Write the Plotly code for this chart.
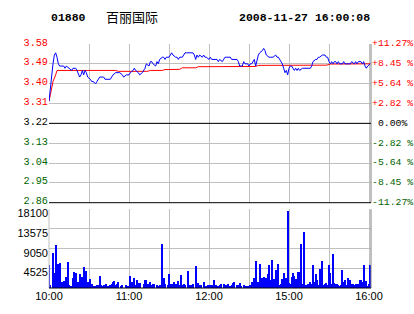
import plotly.graph_objects as go

# ---------------- data ----------------
prev_close = 3.22
price_ticks = [2.86, 2.95, 3.04, 3.13, 3.22, 3.31, 3.40, 3.49, 3.58]
price_labels = ["2.86", "2.95", "3.04", "3.13", "3.22", "3.31", "3.40", "3.49", "3.58"]
pct_labels = ["-11.27%", "-8.45 %", "-5.64 %", "-2.82 %", "\u00a00.00%",
              "+2.82 %", "+5.64 %", "+8.45 %", "+11.27%"]
vol_ticks = [4525, 9050, 13575, 18100]
vol_labels = ["4525", "9050", "13575", "18100"]
time_tickvals = [0, 30, 60, 90, 120, 150, 180, 210, 240]
time_ticktext = ["10:00", "", "11:00", "", "12:00", "", "15:00", "", "16:00"]

# minute index (0 = 10:00, 150 = 12:30/14:30, 240 = 16:00)
price_t = [0, 1, 2, 3, 4, 5, 6, 7, 8, 10, 11, 12, 13, 15, 17, 18, 20, 21, 22, 23, 24, 25, 26, 27, 28, 29,
           31, 32, 33, 35, 36, 37, 38, 40, 41, 42, 45, 46, 47, 48, 50, 51, 52, 53, 55, 56, 58, 60, 61, 63,
           64, 65, 67, 68, 70, 71, 72, 73, 75, 76, 77, 78, 80, 81, 82, 83, 85, 86, 87, 88, 90, 91, 92, 93,
           95, 96, 97, 98, 100, 101, 102, 103, 108, 109, 110, 111, 112, 113, 115, 116, 117, 118, 120, 121,
           122, 123, 125, 126, 127, 128, 130, 131, 132, 133, 136, 137, 138, 140, 141, 142, 143, 145, 146,
           147, 148, 149, 150, 151, 152, 154, 155, 156, 157, 158, 160, 161, 162, 163, 165, 166, 167, 168,
           170, 171, 172, 173, 175, 176, 177, 178, 179, 180, 181, 182, 183, 184, 185, 186, 187, 188, 190,
           196, 197, 198, 200, 201, 202, 203, 205, 207, 208, 209, 210, 211, 212, 213, 214, 215, 216, 217,
           218, 220, 221, 222, 223, 224, 225, 226, 227, 229, 230, 231, 232, 234, 235, 236, 237, 238, 239, 241]
price_p = [3.32, 3.38, 3.45, 3.49, 3.53, 3.54, 3.52, 3.49, 3.48, 3.48, 3.48, 3.47, 3.48, 3.47, 3.46, 3.47,
           3.47, 3.46, 3.44, 3.43, 3.44, 3.46, 3.44, 3.46, 3.45, 3.43,
           3.42, 3.41, 3.41, 3.40, 3.41, 3.42, 3.43, 3.43, 3.43, 3.42, 3.42, 3.42, 3.43, 3.44, 3.45, 3.45,
           3.45, 3.45, 3.44, 3.43, 3.44, 3.44, 3.45, 3.46,
           3.47, 3.46, 3.45, 3.44, 3.45, 3.46, 3.47, 3.49, 3.48, 3.50, 3.50, 3.49, 3.48, 3.50, 3.49, 3.51,
           3.52, 3.52, 3.51, 3.52, 3.52, 3.53, 3.54, 3.53,
           3.52, 3.52, 3.51, 3.52, 3.52, 3.53, 3.54, 3.54, 3.54, 3.53, 3.51, 3.53, 3.52, 3.53, 3.52, 3.53,
           3.52, 3.52, 3.51, 3.52,
           3.51, 3.51, 3.51, 3.51, 3.50, 3.51, 3.50, 3.51, 3.52, 3.52, 3.52, 3.51, 3.51, 3.51, 3.51, 3.50,
           3.48, 3.48, 3.50,
           3.49, 3.49, 3.49, 3.48, 3.49, 3.49, 3.51, 3.48, 3.51, 3.53, 3.54, 3.55, 3.56, 3.55, 3.53, 3.52,
           3.52, 3.52, 3.52,
           3.53, 3.52, 3.52, 3.51, 3.49, 3.47, 3.45, 3.46, 3.44, 3.47, 3.48, 3.48, 3.47, 3.46, 3.47, 3.46,
           3.47, 3.46, 3.47,
           3.47, 3.48, 3.50, 3.51, 3.51, 3.52, 3.52, 3.53, 3.53, 3.52, 3.52, 3.50, 3.49, 3.50, 3.49, 3.50,
           3.50, 3.49, 3.50,
           3.49, 3.49, 3.50, 3.49, 3.49, 3.49, 3.49, 3.49, 3.50, 3.49, 3.50, 3.49, 3.50, 3.50, 3.49, 3.50,
           3.48, 3.47, 3.48, 3.49]

avg_t = [0, 1, 3, 5, 6, 50, 52, 74, 76, 85, 87, 98, 100, 110, 112, 155, 157, 208, 211, 241]
avg_p = [3.32, 3.35, 3.41, 3.44, 3.46, 3.46, 3.456, 3.456, 3.46, 3.46, 3.464, 3.465, 3.472, 3.472,
         3.477, 3.478, 3.483, 3.484, 3.489, 3.490]

vol_t = [0, 1, 3, 4, 5, 6, 7, 8, 9, 10, 11, 12, 13, 14, 15, 16, 17, 18, 19, 20, 21, 22, 23, 24, 25, 26,
         27, 28, 29, 30, 31, 32, 33, 34, 35, 36, 37, 38, 39, 40, 41, 42, 43, 44, 46, 47, 48, 49, 50, 51,
         52, 54, 55, 58, 59, 61, 62, 63, 64, 65, 66, 67, 68, 71, 72, 73, 74, 76, 77, 78, 79, 81, 82, 83,
         85, 86, 87, 89, 90, 91, 92, 94, 95, 96, 97, 98, 99, 100, 101, 102, 104, 105, 106, 107, 108,
         110, 111, 112, 113, 114, 116, 117, 118, 119, 121, 122, 123, 124, 125, 127, 128, 129, 131, 132,
         133, 134, 136, 137, 138, 139, 141, 142, 143, 144, 146, 147, 148, 149, 151, 152, 153, 154, 155,
         156, 157, 158, 159, 160, 161, 162, 163, 164, 165, 166, 167, 168, 169, 170, 171, 172, 173, 174,
         175, 176, 177, 178, 179, 180, 181, 182, 183, 184, 185, 186, 187, 188, 189, 190, 191, 192, 193,
         194, 196, 197, 198, 199, 200, 201, 202, 203, 204, 205, 206, 207, 208, 209, 210, 211, 212, 213,
         214, 215, 216, 217, 218, 219, 220, 221, 222, 223, 224, 225, 226, 227, 228, 229, 230, 231, 232,
         233, 234, 235, 236, 237, 238, 239, 240, 241]
vol_v = [5240, 620, 7930, 3310, 9860, 770, 5390, 5620, 920, 1230, 1540, 620, 2540, 5850, 620, 460, 460,
         2310, 3540, 3310, 620, 1230, 3230, 620, 2540, 4770,
         1540, 3850, 1230, 620, 2000, 770, 460, 460, 460, 620, 620, 2700, 620, 460, 620, 460, 770, 460,
         620, 770, 1230, 1540, 620, 920,
         1230, 460, 620, 620, 460, 2700, 1230, 460, 2160, 620, 1700, 1080, 1080, 770, 1700, 1700, 770,
         1230, 620, 770, 920, 620, 460, 620,
         10100, 2310, 770, 620, 3160, 920, 920, 1390, 770, 620, 1540, 620, 2930, 620, 920, 620, 3850,
         460, 620, 620, 920,
         5000, 1080, 1080, 620, 620, 1230, 460, 460, 620, 620, 620, 620, 1850, 620, 460, 620, 770, 920,
         620,
         620, 920, 460, 620, 1080, 1230, 620, 620, 1080, 460, 620, 460, 460, 460, 620, 1230, 460, 2310,
         6160,
         770, 1230, 5390, 770, 2160, 2540, 770, 2160, 3230, 5240, 1770, 6390, 1540, 2000, 4160, 620,
         5390, 620, 770,
         2000, 3390, 620, 2310, 17710, 1080, 770, 2460, 3390, 2770, 2000, 620, 3540, 3700, 10090, 770,
         12780, 620, 620,
         920, 1230, 770, 5240, 1230, 3080, 1700, 620, 4310, 620, 6160, 620, 770, 1080, 620, 5240, 3390,
         770, 7780,
         1080, 920, 770, 620, 460, 620, 4080, 1230, 1850, 620, 2310, 620, 1700, 770, 920, 620, 770, 920,
         770,
         1700, 1850, 1230, 5240, 620, 1540, 460, 770, 5240]

title_code = "01880"
title_name = "百丽国际"
title_time = "2008-11-27 16:00:08"

# ---------------- styling helpers ----------------
RED = "#ff0000"
GREEN = "#006400"
GRID = "#c0c0c0"
MONO = "Liberation Mono"


def colour_for(v):
    if v > prev_close + 1e-9:
        return RED
    if v < prev_close - 1e-9:
        return GREEN
    return "#000000"


left_text = [f"<span style='color:{colour_for(v)}'>{s}</span>" for v, s in zip(price_ticks, price_labels)]
right_text = [f"<span style='color:{colour_for(v)}'>{s}</span>" for v, s in zip(price_ticks, pct_labels)]

W, H = 414, 314
ML, MR, MT, MB = 49, 43, 44, 26
PW, PH = W - ML - MR, H - MT - MB
X_RANGE = [0, 241.5]

fig = go.Figure()
fig.add_trace(go.Scatter(x=avg_t, y=avg_p, mode="lines", line=dict(color=RED, width=1),
                         xaxis="x", yaxis="y", hoverinfo="skip"))
fig.add_trace(go.Scatter(x=price_t, y=price_p, mode="lines", line=dict(color="#0000ff", width=1),
                         xaxis="x", yaxis="y", hoverinfo="skip"))
fig.add_trace(go.Scatter(x=[price_t[0]], y=[price_p[0]], mode="markers", marker=dict(opacity=0),
                         xaxis="x", yaxis="y3", hoverinfo="skip"))
fig.add_trace(go.Bar(x=vol_t, y=vol_v, width=0.75, marker=dict(color="#0000ff", line=dict(width=0)),
                     xaxis="x2", yaxis="y2", hoverinfo="skip"))

common_x = dict(range=X_RANGE, tickvals=time_tickvals, showgrid=True, gridcolor=GRID, gridwidth=1,
                zeroline=False, showline=False, ticks="", fixedrange=True, automargin=False)

fig.update_layout(
    width=W, height=H,
    margin=dict(l=ML, r=MR, t=MT, b=MB, pad=0, autoexpand=False),
    paper_bgcolor="white", plot_bgcolor="white",
    showlegend=False,
    bargap=0,
    xaxis=dict(**common_x, anchor="y", showticklabels=False, domain=[0, 1]),
    xaxis2=dict(**common_x, anchor="y2", ticktext=time_ticktext, showticklabels=True, domain=[0, 1],
                tickfont=dict(family="Liberation Sans", size=11, color="#000000")),
    yaxis=dict(domain=[0.3496, 1], range=[price_ticks[0], price_ticks[-1]], tickvals=price_ticks,
               ticktext=left_text, showgrid=True, gridcolor=GRID, zeroline=False, showline=False,
               ticks="", tickfont=dict(family=MONO, size=10.2), fixedrange=True, automargin=False,
               ticklabelshift=-2),
    yaxis3=dict(overlaying="y", side="right", anchor="x", range=[price_ticks[0], price_ticks[-1]],
                tickvals=price_ticks, ticktext=right_text, showgrid=False, zeroline=False,
                showline=False, ticks="", tickfont=dict(family=MONO, size=9.8), fixedrange=True,
                automargin=False, ticklabelshift=-1),
    yaxis2=dict(domain=[0, 0.3225], range=[0, vol_ticks[-1]], tickvals=vol_ticks, ticktext=vol_labels,
                showgrid=True, gridcolor=GRID, zeroline=False, showline=False, ticks="",
                tickfont=dict(family="Liberation Sans", size=11, color="#000000"), fixedrange=True,
                automargin=False, ticklabelshift=4),
)

shapes = [
    # price panel right border
    dict(type="line", xref="x domain", yref="y domain", x0=1, x1=1, y0=0, y1=1,
         line=dict(color="#808080", width=1)),
    # previous close line
    dict(type="line", xref="x domain", yref="y", x0=0, x1=1, y0=prev_close, y1=prev_close,
         line=dict(color="#000000", width=1)),
    # price panel bottom
    dict(type="line", xref="x domain", yref="y domain", x0=0, x1=1, y0=0, y1=0,
         line=dict(color="#000000", width=1)),
    # volume panel borders
    dict(type="line", xref="x2 domain", yref="y2 domain", x0=1, x1=1, y0=0, y1=1,
         line=dict(color="#808080", width=1)),
    dict(type="line", xref="x2 domain", yref="y2 domain", x0=0, x1=0, y0=0, y1=1,
         line=dict(color=GRID, width=1)),
    dict(type="line", xref="x2 domain", yref="y2 domain", x0=0, x1=1, y0=0, y1=0,
         line=dict(color="#000000", width=1)),
]
fig.update_layout(shapes=shapes)


def px_x(px):
    return (px - ML) / PW


def px_y(py):
    return 1 + (MT - py) / PH


title_font = dict(family=MONO, size=11.5, color="#000000")
fig.add_annotation(text=f"<b>{title_code}</b>", xref="paper", yref="paper", x=px_x(49), y=px_y(17),
                   xanchor="left", yanchor="middle", showarrow=False, font=title_font)
fig.add_annotation(text=title_name, xref="paper", yref="paper", x=px_x(104), y=px_y(16),
                   xanchor="left", yanchor="middle", showarrow=False,
                   font=dict(family="Noto Sans CJK SC", size=13, color="#000000"))
fig.add_annotation(text=f"<b>{title_time}</b>", xref="paper", yref="paper", x=px_x(237), y=px_y(17),
                   xanchor="left", yanchor="middle", showarrow=False, font=title_font)

fig.write_html("out.html", config={"displayModeBar": False})
